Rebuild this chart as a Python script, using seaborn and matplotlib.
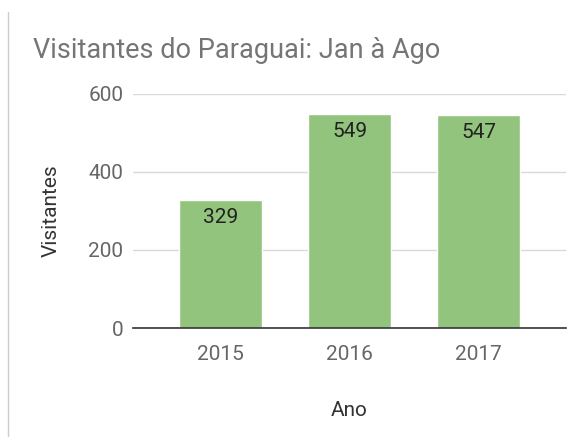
import matplotlib
matplotlib.use("Agg")
import matplotlib.pyplot as plt
import seaborn as sns
import pandas as pd
from matplotlib.lines import Line2D

years = ["2015", "2016", "2017"]
visitors = [329, 549, 547]
yticks = [0, 200, 400, 600]
title = "Visitantes do Paraguai: Jan à Ago"
xlabel = "Ano"
ylabel = "Visitantes"

sns.set_theme(style="white")
plt.rcParams["font.family"] = ["Roboto", "DejaVu Sans"]

df = pd.DataFrame({"Ano": years, "Visitantes": visitors})

fig = plt.figure(figsize=(5.81, 4.38), dpi=100)
ax = fig.add_axes([133 / 581, 1 - 328 / 438, (566 - 133) / 581, (328 - 94) / 438])

sns.barplot(data=df, x="Ano", y="Visitantes", color="#93c47d", saturation=1,
            width=0.64, ax=ax, zorder=3)

ax.set_xlim(-0.675, 2.675)
ax.set_ylim(0, 600)
ax.set_yticks(yticks)
ax.yaxis.grid(True, color="#d9d9d9", linewidth=1.0, zorder=0)
ax.set_axisbelow(True)
for s in ["top", "right", "left"]:
    ax.spines[s].set_visible(False)
ax.spines["bottom"].set_color("#333333")
ax.spines["bottom"].set_linewidth(1.2)
ax.spines["bottom"].set_zorder(4)

ax.tick_params(axis="y", length=0, pad=7, labelsize=15, labelcolor="#666666")
ax.tick_params(axis="x", length=0, pad=12, labelsize=15, labelcolor="#666666")

ax.set_xlabel(xlabel, fontsize=15, color="#333333", labelpad=27)
ax.set_ylabel(ylabel, fontsize=15, color="#333333", labelpad=20)

for c in ax.containers:
    ax.bar_label(c, labels=[str(v) for v in visitors], padding=-19.7,
                 fontsize=15, color="#222222")

fig.text(33 / 581, 1 - 58 / 438, title, fontsize=19.5, color="#757575",
         ha="left", va="baseline")

fig.add_artist(Line2D([8 / 581, 8 / 581], [1 - 12 / 438, 1 - 436 / 438],
                      transform=fig.transFigure, color="#cccccc", linewidth=1))

fig.savefig("out.png", dpi=100)
